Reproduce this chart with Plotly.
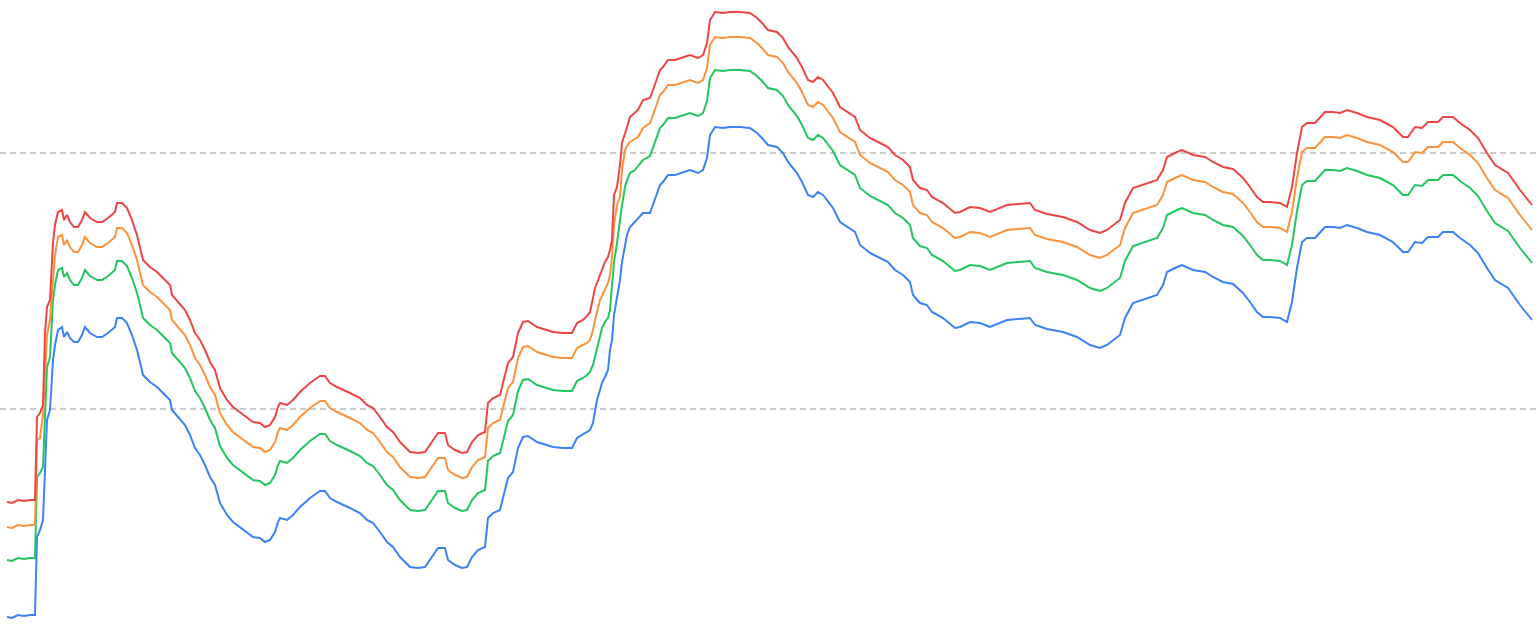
import plotly.graph_objects as go

# sample positions (time index)
x = [7, 12, 18, 24, 30, 35, 37, 40, 43, 45, 47, 50, 53, 55, 58, 62, 64, 67, 70, 74, 78, 82, 85,
     90, 97, 102, 108, 115, 117, 122, 127, 132, 137, 140, 143, 150, 157, 163, 170, 172, 178, 185,
     190, 195, 200, 205, 210, 215, 220, 227, 233, 240, 247, 253, 260, 265, 270, 275, 278, 280, 287,
     293, 300, 310, 320, 325, 330, 337, 350, 360, 367, 373, 380, 387, 393, 400, 410, 418, 425, 432,
     438, 445, 448, 455, 462, 467, 472, 478, 485, 488, 493, 500, 503, 508, 513, 518, 523, 528, 537,
     547, 553, 563, 572,
     577, 583, 587, 590, 593, 595, 597, 600, 602, 605, 608, 610, 612, 614, 617, 620, 622, 625, 627,
     630, 635, 638, 643,
     650, 653, 660, 663, 668, 675, 683, 690, 698, 703, 707, 710, 715, 723, 730, 740, 750, 757, 762,
     768, 777, 783, 788, 797, 802, 808, 813, 818, 823, 833, 840, 847, 855, 860, 870, 880, 888, 895,
     903, 910, 913, 920, 927, 932, 943, 955, 960, 970, 980, 990, 1000, 1007, 1030, 1035, 1047, 1063,
     1077, 1090, 1100, 1107, 1120, 1125, 1133, 1147, 1157, 1163, 1167, 1177, 1182, 1193, 1205, 1213,
     1223, 1233, 1243, 1250, 1257, 1263, 1270, 1280, 1287, 1292, 1297, 1302, 1307, 1315, 1320, 1325,
     1333, 1340, 1347, 1357, 1367, 1380, 1393, 1403, 1408, 1415, 1422, 1428, 1438, 1443, 1453, 1460,
     1470, 1478, 1487, 1495, 1508, 1520, 1532]

red = [148, 147, 150, 149, 150, 150, 233, 237, 245, 317, 343, 350, 407, 425, 438, 440, 430, 435, 428, 423, 423, 430, 438,
       432, 428, 428, 432, 438, 447, 447, 442, 430, 415, 403, 390, 383, 378, 372, 365, 355, 348, 340,
       330, 317, 310, 300, 288, 280, 262, 250, 243, 238, 233, 228, 227, 223, 225, 233, 243, 247, 245,
       250, 258, 267, 274, 274, 267, 263, 257, 252, 245, 242, 233, 223, 218, 208, 198, 197, 198, 208,
       217, 217, 205, 200, 197, 198, 208, 215, 218, 247, 252, 255, 268, 287, 293, 317, 328, 329, 323,
       320, 318, 317, 317,
       327, 330, 334, 338, 352, 362, 367, 375, 380, 388, 393, 400, 410, 455, 463, 485, 507, 518, 523,
       533, 537, 540, 550,
       552, 560, 580, 583, 590, 590, 593, 595, 592, 595, 607, 630, 638, 637, 638, 638, 637, 632, 627,
       620, 618, 612, 603, 592, 583, 570, 568, 573, 570, 557, 543, 538, 533, 520, 512, 507, 503, 495,
       490, 483, 470, 462, 460, 453, 447, 437, 438, 443, 442, 438, 442, 445, 447, 440, 436, 433,
       428, 420, 417, 420, 430, 447, 462, 467, 470, 480, 493, 498, 500, 495, 493, 488,
       483, 481, 472, 463, 453, 448, 448, 447, 443, 463, 497, 523, 527, 527, 532, 538,
       538, 537, 540, 537, 533, 530, 523, 513, 513, 523, 522, 528, 528, 533, 533, 527,
       520, 512, 497, 485, 477, 460, 445]

orange = [123, 122, 125, 124, 125, 125, 210, 212, 235, 275, 315, 330, 375, 395, 413, 415, 405, 410, 403, 398, 398, 405, 413,
          407, 403, 403, 407, 413, 422, 422, 417, 405, 390, 378, 365, 358, 353, 347, 340, 330, 323, 315,
          305, 292, 285, 275, 263, 255, 237, 225, 218, 213, 208, 203, 202, 198, 200, 208, 218, 222, 220,
          225, 233, 242, 249, 249, 242, 238, 232, 227, 220, 217, 208, 198, 193, 183, 173, 172, 173, 183,
          192, 192, 180, 175, 172, 173, 183, 190, 193, 222, 227, 230, 243, 262, 268, 292, 303, 304, 298,
          295, 293, 292, 292,
          302, 305, 307, 310, 320, 330, 338, 350, 354, 360, 367, 375, 393, 425, 445, 453, 480, 500, 504,
          508, 511, 513, 522,
          527, 535, 555, 558, 565, 565, 568, 570, 567, 570, 582, 605, 613, 612, 613, 613, 612, 607, 602,
          595, 593, 587, 578, 567, 558, 545, 543, 548, 545, 532, 518, 513, 508, 495, 487, 482, 478, 470,
          465, 458, 445, 437, 435, 428, 422, 412, 413, 418, 417, 413, 417, 420, 422, 415, 411, 408,
          403, 395, 392, 395, 405, 422, 437, 442, 445, 455, 468, 473, 475, 470, 468, 463,
          458, 456, 447, 438, 428, 423, 423, 422, 418, 438, 472, 498, 502, 502, 507, 513,
          513, 512, 515, 512, 508, 505, 498, 488, 488, 498, 497, 503, 503, 508, 508, 502,
          495, 487, 472, 460, 452, 435, 420]

green = [90, 89, 92, 91, 92, 92, 173, 177, 183, 230, 283, 293, 350, 365, 380, 382, 373, 377, 370, 365, 365, 372, 380,
         374, 370, 370, 374, 380, 389, 389, 384, 372, 357, 345, 332, 325, 320, 314, 307, 297, 290, 282,
         272, 259, 252, 242, 230, 222, 204, 192, 185, 180, 175, 170, 169, 165, 167, 175, 185, 189, 187,
         192, 200, 209, 216, 216, 209, 205, 199, 194, 187, 184, 175, 165, 160, 150, 140, 139, 140, 150,
         159, 159, 147, 142, 139, 140, 150, 157, 160, 189, 194, 197, 210, 229, 235, 259, 270, 271, 265,
         262, 260, 259, 259,
         269, 272, 275, 278, 285, 293, 303, 315, 322, 328, 332, 340, 367, 388, 407, 433, 445, 463, 470,
         477, 480, 484, 490,
         494, 502, 522, 525, 532, 532, 535, 537, 534, 537, 549, 572, 580, 579, 580, 580, 579, 574, 569,
         562, 560, 554, 545, 534, 525, 512, 510, 515, 512, 499, 485, 480, 475, 462, 454, 449, 445, 437,
         432, 425, 412, 404, 402, 395, 389, 379, 380, 385, 384, 380, 384, 387, 389, 382, 378, 375,
         370, 362, 359, 362, 372, 389, 404, 409, 412, 422, 435, 440, 442, 437, 435, 430,
         425, 423, 414, 405, 395, 390, 390, 389, 385, 405, 439, 465, 469, 469, 474, 480,
         480, 479, 482, 479, 475, 472, 465, 455, 455, 465, 464, 470, 470, 475, 475, 469,
         462, 454, 439, 427, 419, 402, 387]

blue = [33, 32, 35, 34, 35, 35, 113, 120, 130, 180, 230, 240, 290, 305, 320, 323, 313, 318, 312, 308, 308, 315, 323,
        317, 313, 313, 317, 323, 332, 332, 327, 315, 300, 288, 275, 268, 263, 257, 250, 240, 233, 225,
        215, 202, 195, 185, 173, 165, 147, 135, 128, 123, 118, 113, 112, 108, 110, 118, 128, 132, 130,
        135, 143, 152, 159, 159, 152, 148, 142, 137, 130, 127, 118, 108, 103, 93, 83, 82, 83, 93,
        102, 102, 90, 85, 82, 83, 93, 100, 103, 132, 137, 140, 153, 172, 178, 202, 213, 214, 208,
        205, 203, 202, 202,
        212, 216, 218, 220, 227, 238, 250, 260, 267, 273, 280, 300, 310, 335, 353, 370, 388, 407, 415,
        423, 428, 432, 437,
        437, 445, 465, 468, 475, 475, 478, 480, 477, 480, 492, 515, 523, 522, 523, 523, 522, 517, 512,
        505, 503, 497, 488, 477, 468, 455, 453, 458, 455, 442, 428, 423, 418, 405, 397, 392, 388, 380,
        375, 368, 355, 347, 345, 338, 332, 322, 323, 328, 327, 323, 327, 330, 332, 325, 321, 318,
        313, 305, 302, 305, 315, 332, 347, 352, 355, 365, 378, 383, 385, 380, 378, 373,
        368, 366, 357, 348, 338, 333, 333, 332, 328, 348, 382, 408, 412, 412, 417, 423,
        423, 422, 425, 422, 418, 415, 408, 398, 398, 408, 407, 413, 413, 418, 418, 412,
        405, 397, 382, 370, 362, 345, 330]

reference_levels = [497, 241]

series = [
    ("blue", blue, "#3b82f6"),
    ("green", green, "#22c55e"),
    ("orange", orange, "#fb923c"),
    ("red", red, "#ef4444"),
]

fig = go.Figure()
for name, vals, color in series:
    fig.add_trace(go.Scatter(x=x, y=vals, mode="lines", name=name,
                             line=dict(color=color, width=2)))

for lvl in reference_levels:
    fig.add_shape(type="line", xref="paper", x0=0, x1=1, yref="y", y0=lvl, y1=lvl,
                  line=dict(color="#999999", width=1, dash="6px,4px"), layer="below")

fig.update_layout(
    width=1540, height=633,
    margin=dict(l=0, r=0, t=0, b=0),
    paper_bgcolor="white", plot_bgcolor="white",
    showlegend=False,
    xaxis=dict(range=[0, 1540], visible=False, showgrid=False, zeroline=False),
    yaxis=dict(range=[17, 650], visible=False, showgrid=False, zeroline=False),
)

fig.write_html("out.html", config={"displayModeBar": False},
               post_script="document.body.style.margin='0';document.body.style.overflow='hidden';")
